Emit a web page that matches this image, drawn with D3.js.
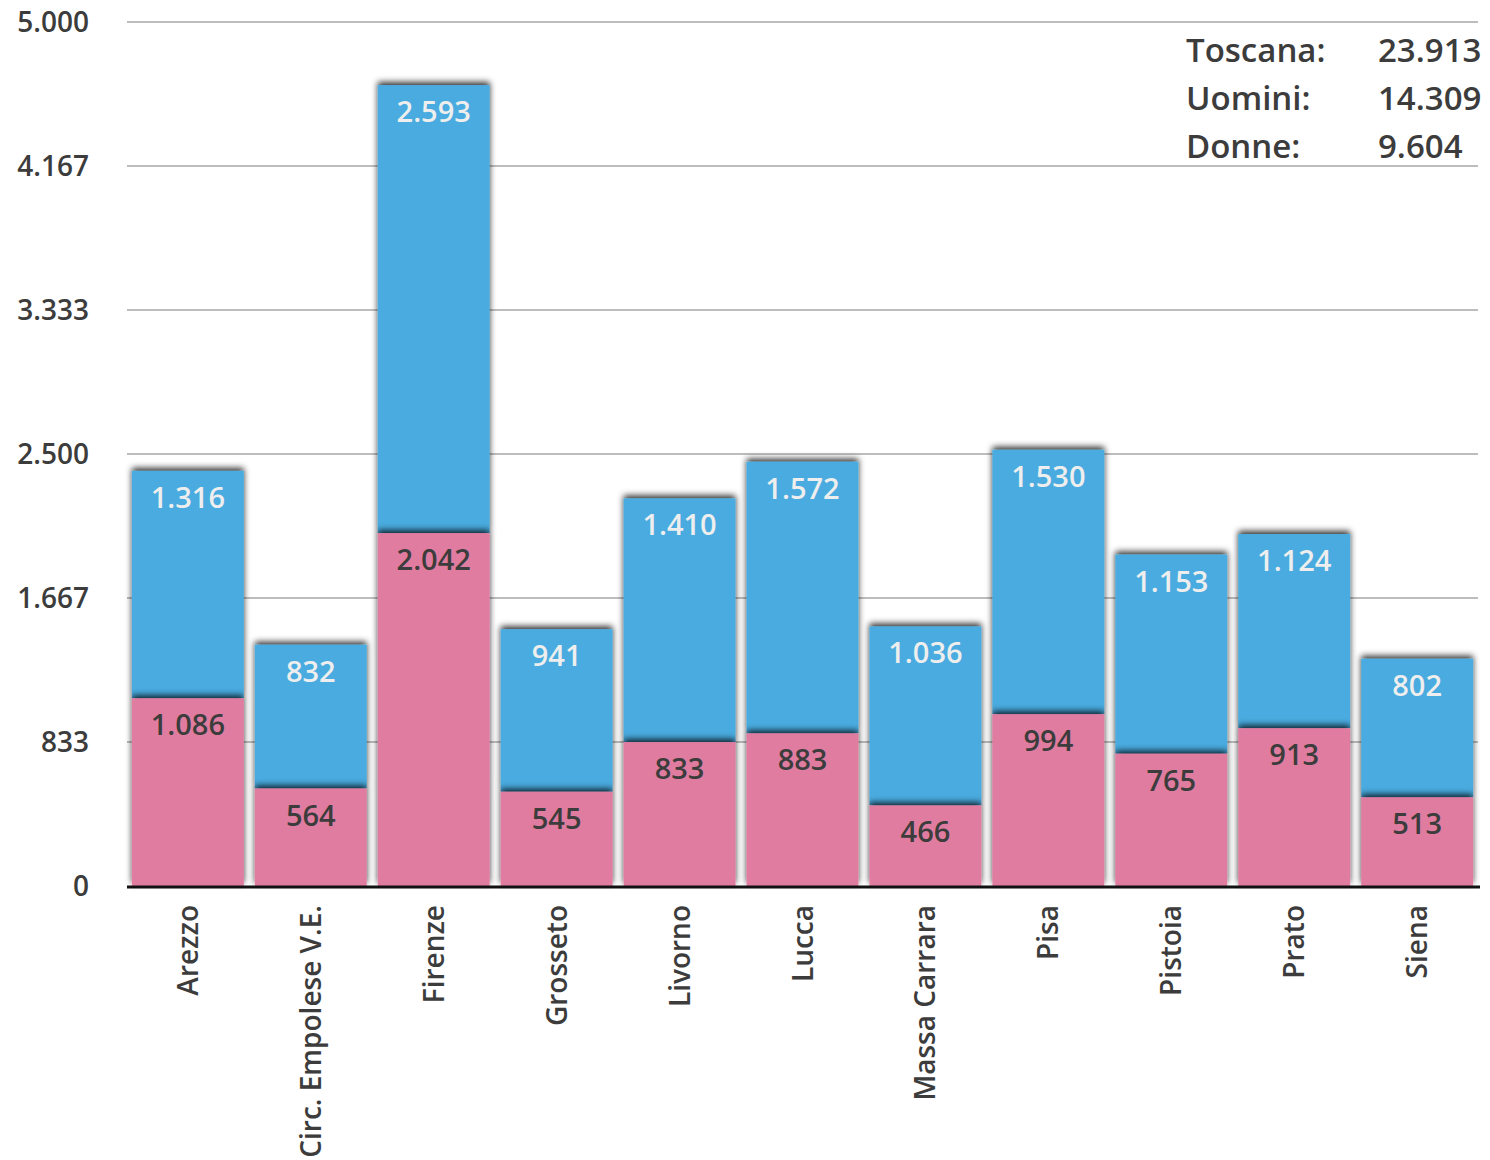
<!DOCTYPE html>
<html>
<head>
<meta charset="utf-8">
<script src="https://cdn.jsdelivr.net/npm/d3@7"></script>
<style>
  body { margin: 0; background: #fff; }
  svg text { font-family: "Open Sans", sans-serif; font-weight: 600; }
</style>
</head>
<body>
<svg width="1490" height="1160"></svg>
<script>
// data
const province = ["Arezzo", "Circ. Empolese V.E.", "Firenze", "Grosseto", "Livorno", "Lucca",
  "Massa Carrara", "Pisa", "Pistoia", "Prato", "Siena"];
const donne = [1086, 564, 2042, 545, 833, 883, 466, 994, 765, 913, 513];
const uomini = [1316, 832, 2593, 941, 1410, 1572, 1036, 1530, 1153, 1124, 802];
const yTicks = [0, 833, 1667, 2500, 3333, 4167, 5000];
const legendLabels = ["Toscana:", "Uomini:", "Donne:"];
const legendValues = [23913, 14309, 9604];

const fmt = v => d3.format(",")(v).replace(/,/g, ".");

const svg = d3.select("svg");

const x = d3.scaleBand()
  .domain(province)
  .range([127, 1478])
  .paddingInner(0.09)
  .paddingOuter(0.04);

const y = d3.scaleLinear()
  .domain([0, 5000])
  .range([886, 22]);

// shadow for bars
const defs = svg.append("defs");
defs.append("filter")
  .attr("id", "shadow")
  .attr("x", "-20%").attr("y", "-20%")
  .attr("width", "140%").attr("height", "140%")
  .append("feDropShadow")
  .attr("dx", 0)
  .attr("dy", -3)
  .attr("stdDeviation", 3.2)
  .attr("flood-color", "#000")
  .attr("flood-opacity", 0.8);

// gridlines
svg.append("g")
  .selectAll("line")
  .data(yTicks.slice(1))
  .enter()
  .append("line")
  .attr("x1", 127)
  .attr("x2", 1478)
  .attr("y1", d => y(d))
  .attr("y2", d => y(d))
  .attr("stroke", "#bdbdbd")
  .attr("stroke-width", 2);

// y labels
svg.append("g")
  .selectAll("text")
  .data(yTicks)
  .enter()
  .append("text")
  .attr("x", 89)
  .attr("y", d => y(d) + 10)
  .attr("text-anchor", "end")
  .style("font-size", "28px")
  .style("fill", "#3c3c3c")
  .text(d => fmt(d));

// blue (uomini) segment, on top
svg.append("g")
  .selectAll("rect")
  .data(province)
  .enter()
  .append("rect")
  .attr("x", d => x(d))
  .attr("width", x.bandwidth())
  .attr("y", (d, i) => y(donne[i] + uomini[i]))
  .attr("height", (d, i) => y(donne[i]) - y(donne[i] + uomini[i]))
  .attr("fill", "#4aabdf")
  .attr("filter", "url(#shadow)");

// pink (donne) segment
svg.append("g")
  .selectAll("rect")
  .data(province)
  .enter()
  .append("rect")
  .attr("x", d => x(d))
  .attr("width", x.bandwidth())
  .attr("y", (d, i) => y(donne[i]))
  .attr("height", (d, i) => y(0) - y(donne[i]))
  .attr("fill", "#e17ca1")
  .attr("filter", "url(#shadow)");

// baseline
svg.append("line")
  .attr("x1", 127)
  .attr("x2", 1480)
  .attr("y1", y(0) + 1)
  .attr("y2", y(0) + 1)
  .attr("stroke", "#111")
  .attr("stroke-width", 3);

// value labels
svg.append("g")
  .selectAll("text")
  .data(province)
  .enter()
  .append("text")
  .attr("x", d => x(d) + x.bandwidth() / 2)
  .attr("y", (d, i) => y(donne[i] + uomini[i]) + 37)
  .attr("text-anchor", "middle")
  .style("font-size", "29px")
  .style("fill", "#eeeeee")
  .text((d, i) => fmt(uomini[i]));

svg.append("g")
  .selectAll("text")
  .data(province)
  .enter()
  .append("text")
  .attr("x", d => x(d) + x.bandwidth() / 2)
  .attr("y", (d, i) => y(donne[i]) + 37)
  .attr("text-anchor", "middle")
  .style("font-size", "29px")
  .style("fill", "#3c3c3c")
  .text((d, i) => fmt(donne[i]));

// category labels
svg.append("g")
  .selectAll("text")
  .data(province)
  .enter()
  .append("text")
  .attr("transform", d => `translate(${x(d) + x.bandwidth() / 2 + 10},905) rotate(-90)`)
  .attr("text-anchor", "end")
  .style("font-size", "28px")
  .style("fill", "#3c3c3c")
  .text(d => d);

// legend
legendLabels.forEach(function (lab, i) {
  svg.append("text")
    .attr("x", 1186)
    .attr("y", 62 + i * 48)
    .style("font-size", "33px")
    .style("fill", "#3c3c3c")
    .text(lab);
  svg.append("text")
    .attr("x", 1378)
    .attr("y", 62 + i * 48)
    .style("font-size", "33px")
    .style("fill", "#3c3c3c")
    .text(fmt(legendValues[i]));
});
</script>
</body>
</html>
